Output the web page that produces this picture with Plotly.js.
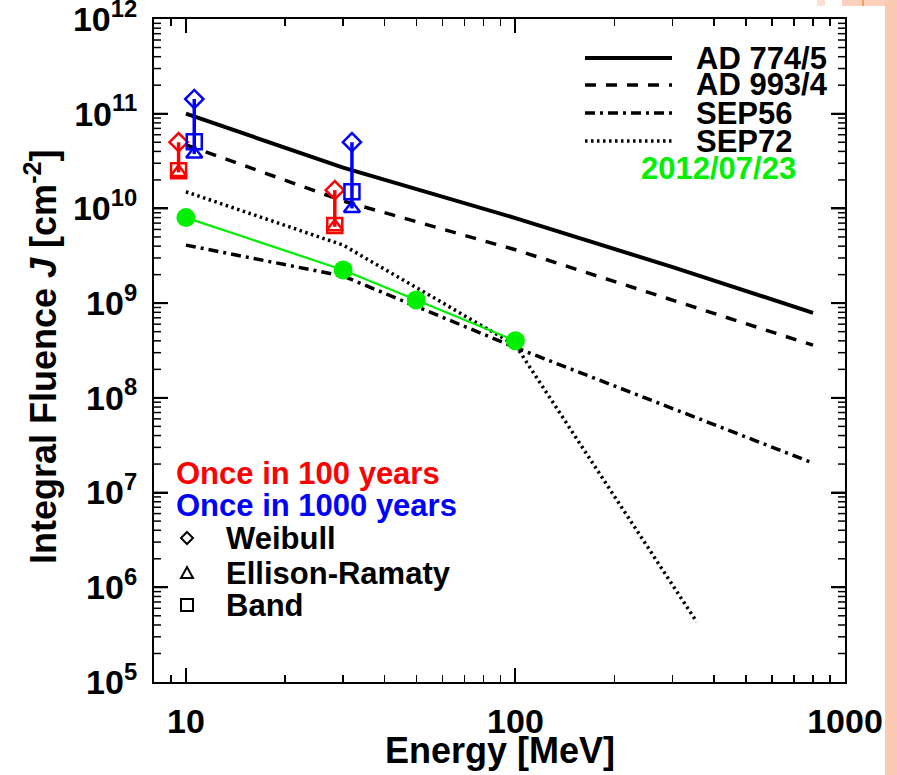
<!DOCTYPE html>
<html>
<head>
<meta charset="utf-8">
<script src="https://cdn.plot.ly/plotly-3.0.1.min.js"></script>
<style>html,body{margin:0;padding:0;background:#fff;}#chart{width:897px;height:775px;}</style>
</head>
<body>
<div id="chart"></div>
<script>
// ---- data ----
const energyAD = [10, 30, 100, 300, 800];
const ad7745 = [1.0e11, 2.7e10, 7.9e9, 2.4e9, 7.9e8];
const ad9934 = [4.7e10, 1.2e10, 3.66e9, 1.08e9, 3.6e8];
const energySEP56 = [10, 30, 100, 800];
const sep56 = [4.1e9, 1.93e9, 3.4e8, 2.05e7];
const energySEP72 = [10, 30, 100, 355];
const sep72 = [1.5e10, 4.1e9, 3.6e8, 4.3e5];
const energy2012 = [10, 30, 50, 100];
const fluence2012 = [8.0e9, 2.24e9, 1.08e9, 4.0e8];

const energy100 = [9.5, 28.3];
const weibull100 = [5.0e10, 1.56e10];
const ellison100 = [2.4e10, 6.4e9];
const band100 = [2.5e10, 6.6e9];
const energy1000 = [10.6, 31.9];
const weibull1000 = [1.43e11, 5.0e10];
const ellison1000 = [3.75e10, 1.0e10];
const band1000 = [5.06e10, 1.5e10];

const xTickVals = [10, 100, 1000];
const xTickText = ['10', '100', '1000'];
const yExponents = [5, 6, 7, 8, 9, 10, 11, 12];

const lineNames = ['AD 774/5', 'AD 993/4', 'SEP56', 'SEP72'];
const keyNames = ['Weibull', 'Ellison-Ramaty', 'Band'];

// ---- layout geometry (pixels) ----
const W = 897, H = 775;
const L = 154, R = 845, T = 19, B = 682;
const Y0 = 5, Y1 = 12;
const XR0 = Math.log10(8.0), XR1 = 3.0001;
const px = x => (x - L) / (R - L);
const py = y => (B - y) / (B - T);
const FONT = 'Liberation Sans, Arial, Helvetica, sans-serif';
const LEGFS = 31, TICKFS = 34, TITLEFS = 36;
const GREEN = '#00f000', RED = '#ff0000', BLUE = '#0000ff';

const traces = [];
traces.push({x: energyAD, y: ad7745, mode: 'lines', line: {color: '#000', width: 4}});
traces.push({x: energyAD, y: ad9934, mode: 'lines', line: {color: '#000', width: 3.5, dash: '11px,10px'}});
traces.push({x: energySEP56, y: sep56, mode: 'lines', line: {color: '#000', width: 3.5, dash: '10px,5px,3px,5px'}});
traces.push({x: energySEP72, y: sep72, mode: 'lines', line: {color: '#000', width: 3.5, dash: '2.5px,3.5px'}});
traces.push({x: energy2012, y: fluence2012, mode: 'lines+markers', line: {color: GREEN, width: 2.2},
  marker: {symbol: 'circle', size: 19, color: GREEN}});

function group(es, wb, er, bd, color) {
  for (let i = 0; i < es.length; i++) {
    const lo = Math.min(er[i], bd[i]);
    traces.push({x: [es[i], es[i]], y: [wb[i], lo], mode: 'lines', line: {color: color, width: 3.5}});
  }
  const mk = (ys, sym, size) => traces.push({x: es, y: ys, mode: 'markers',
    marker: {symbol: sym, size: size, color: color, line: {width: 2.5}}});
  mk(wb, 'diamond-open', 14);
  mk(er, 'triangle-up-open', 14);
  mk(bd, 'square-open', 15);
}
group(energy100, weibull100, ellison100, band100, RED);
group(energy1000, weibull1000, ellison1000, band1000, BLUE);

// y-axis inside tick marks on both sides, positioned from the axis range (decoration)
const xAtPix = p => Math.pow(10, XR0 + (p - L) / (R - L) * (XR1 - XR0));
function yTickTrace(len, width, vals) {
  const xs = [], ys = [];
  vals.forEach(v => {
    xs.push(xAtPix(L), xAtPix(L + len), null, xAtPix(R - len), xAtPix(R), null);
    ys.push(v, v, null, v, v, null);
  });
  traces.push({x: xs, y: ys, mode: 'lines', line: {color: '#000', width: width}, cliponaxis: false, connectgaps: false});
}
const majorY = [], minorY = [];
for (let e = Y0; e < Y1; e++) {
  if (e > Y0) majorY.push(Math.pow(10, e));
  for (let d = 2; d <= 9; d++) minorY.push(d * Math.pow(10, e));
}
yTickTrace(14, 2, majorY);
yTickTrace(7, 1.5, minorY);
traces.forEach(t => { t.showlegend = false; t.hoverinfo = 'skip'; });

const annotations = [];
const ann = (x, y, text, color, anchor, size, extra) => annotations.push(Object.assign({
  xref: 'paper', yref: 'paper', x: px(x), y: py(y), text: text, showarrow: false,
  xanchor: anchor, yanchor: 'middle', font: {family: FONT, size: size, color: color, weight: 'bold'}
}, extra || {}));
const keyY = [58, 85, 113, 141];
lineNames.forEach((n, i) => ann(694, keyY[i], n, '#000', 'left', LEGFS));
ann(639, 168, '2012/07/23', GREEN, 'left', LEGFS);
ann(174, 473, 'Once in 100 years', RED, 'left', LEGFS);
ann(174, 505, 'Once in 1000 years', BLUE, 'left', LEGFS);
const symY = [538, 573, 605];
keyNames.forEach((n, i) => ann(224, symY[i], n, '#000', 'left', LEGFS));
ann(500, 750, 'Energy [MeV]', '#000', 'center', TITLEFS);
ann(41, 357, 'Integral Fluence <i>J</i> [cm<sup>-2</sup>]', '#000', 'center', TITLEFS, {textangle: -90});

// legend key samples (paper-space shapes)
const keyDash = ['solid', '11px,10px', '10px,5px,3px,5px', '2.5px,3.5px'];
const keyWidth = [4, 3.5, 3.5, 3.5];
const shapes = [];
keyDash.forEach((d, i) => shapes.push({type: 'line', xref: 'paper', yref: 'paper',
  x0: px(585), x1: px(672), y0: py(keyY[i]), y1: py(keyY[i]),
  line: {color: '#000', width: keyWidth[i], dash: d}}));
const poly = pts => 'M' + pts.map(p => px(p[0]) + ',' + py(p[1])).join('L') + 'Z';
const cx = 187;
shapes.push({type: 'path', xref: 'paper', yref: 'paper', line: {color: '#000', width: 2},
  path: poly([[cx, symY[0] - 6], [cx + 6, symY[0]], [cx, symY[0] + 6], [cx - 6, symY[0]]])});
shapes.push({type: 'path', xref: 'paper', yref: 'paper', line: {color: '#000', width: 2},
  path: poly([[cx, symY[1] - 6], [cx + 6, symY[1] + 5], [cx - 6, symY[1] + 5]])});
shapes.push({type: 'path', xref: 'paper', yref: 'paper', line: {color: '#000', width: 2},
  path: poly([[cx - 6, symY[2] - 6], [cx + 6, symY[2] - 6], [cx + 6, symY[2] + 6], [cx - 6, symY[2] + 6]])});
// page-edge background pieces of the reference
shapes.push(
  {type: 'rect', xref: 'paper', yref: 'paper', x0: px(885), x1: px(900), y0: py(780), y1: py(-5),
   fillcolor: '#fcc9b3', line: {width: 0}, layer: 'above'},
  {type: 'rect', xref: 'paper', yref: 'paper', x0: px(817), x1: px(825), y0: py(6), y1: py(-5),
   fillcolor: '#fde0d2', line: {width: 0}, layer: 'above'},
  {type: 'rect', xref: 'paper', yref: 'paper', x0: px(842), x1: px(885), y0: py(6), y1: py(-5),
   fillcolor: '#fcd0bb', line: {width: 0}, layer: 'above'},
  {type: 'rect', xref: 'paper', yref: 'paper', x0: px(862), x1: px(864), y0: py(6), y1: py(-5),
   fillcolor: '#f5a060', line: {width: 0}, layer: 'above'}
);

const minorVals = (lo, hi) => {
  const v = [];
  for (let e = lo; e < hi; e++) for (let d = 2; d <= 9; d++) v.push(d * Math.pow(10, e));
  return v;
};

const axisCommon = {
  type: 'log', showgrid: false, zeroline: false, showline: true, linecolor: '#000', linewidth: 2,
  mirror: 'allticks', ticks: 'inside', ticklen: 14, tickwidth: 2, tickcolor: '#000',
  tickfont: {family: FONT, size: TICKFS, color: '#000', weight: 'bold'},
  ticklabeloverflow: 'allow', fixedrange: true
};
const minorCommon = {ticks: 'inside', ticklen: 7, tickwidth: 1.5, tickcolor: '#000', showgrid: false, tickmode: 'array'};

const layout = {
  width: W, height: H,
  margin: {l: L, r: W - R, t: T, b: H - B, pad: 0},
  paper_bgcolor: '#fff', plot_bgcolor: '#fff',
  xaxis: Object.assign({}, axisCommon, {range: [XR0, XR1], tickmode: 'array',
    tickvals: xTickVals, ticktext: xTickText, ticklabelstandoff: 8,
    minor: Object.assign({}, minorCommon, {tickvals: minorVals(0, 3)})}),
  yaxis: Object.assign({}, axisCommon, {range: [Y0, Y1 + 0.0001], tickmode: 'array',
    tickvals: yExponents.map(e => Math.pow(10, e)),
    ticktext: yExponents.map(e => '10<sup>' + e + '</sup>'), ticklabelstandoff: 8}),
  annotations: annotations,
  shapes: shapes,
  showlegend: false
};

Plotly.newPlot('chart', traces, layout, {staticPlot: true, displayModeBar: false});
</script>
</body>
</html>
